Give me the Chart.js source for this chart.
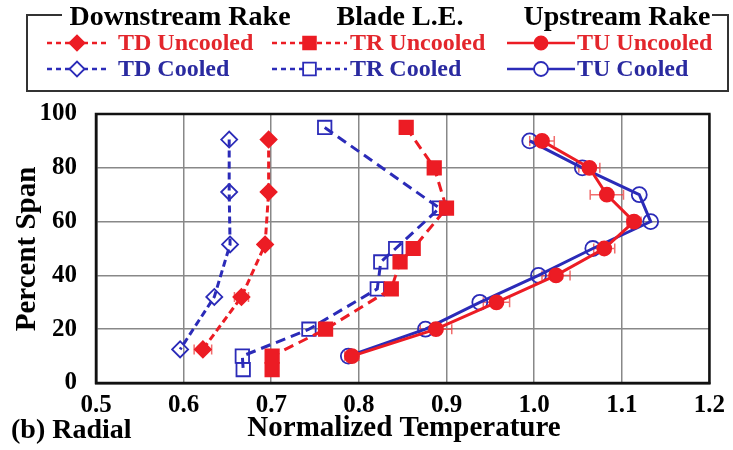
<!DOCTYPE html>
<html>
<head>
<meta charset="utf-8">
<script src="https://cdn.jsdelivr.net/npm/chart.js@4/dist/chart.umd.min.js"></script>
<style>
  html, body { margin: 0; padding: 0; background: #fff; }
  #wrap { width: 733px; height: 450px; }
</style>
</head>
<body>
<div id="wrap"><canvas id="c" width="733" height="450"></canvas></div>
<script>
// ---- data ----
const TD_SPAN = [90.5, 71, 51.5, 32, 12.5];
const TD_UNCOOLED = [0.697, 0.697, 0.693, 0.666, 0.622];
const TD_UNCOOLED_ERR = [0, 0, 0, 0.008, 0.01];
const TD_COOLED = [0.652, 0.652, 0.653, 0.635, 0.596];

const TR_UNC_SPAN = [95, 80, 65, 50, 45, 35, 20, 10, 5];
const TR_UNCOOLED = [0.854, 0.886, 0.900, 0.862, 0.847, 0.837, 0.762, 0.701, 0.701];
const TR_COOL_SPAN = [95, 65, 50, 45, 35, 20, 10, 5];
const TR_COOLED = [0.761, 0.892, 0.842, 0.825, 0.821, 0.743, 0.667, 0.668];

const TU_SPAN = [90, 80, 70, 60, 50, 40, 30, 20, 10];
const TU_UNCOOLED = [1.009, 1.063, 1.083, 1.114, 1.080, 1.025, 0.957, 0.888, 0.792];
const TU_UNCOOLED_ERR = [0.014, 0.012, 0.019, 0.008, 0.012, 0.016, 0.015, 0.018, 0.008];
const TU_COOLED = [0.995, 1.055, 1.120, 1.133, 1.067, 1.005, 0.938, 0.876, 0.788];

const X_TICKS = [0.5, 0.6, 0.7, 0.8, 0.9, 1.0, 1.1, 1.2];
const Y_TICKS = [0, 20, 40, 60, 80, 100];
const GROUPS = ['Downstream Rake', 'Blade L.E.', 'Upstream Rake'];

const RED = '#ec1c24';
const BLUE = '#2b2bb8';
const SERIF = '"Liberation Serif", "Times New Roman", serif';

const pts = (xs, ys) => xs.map((x, i) => ({ x, y: ys[i] }));

const datasets = [
  { label: 'TD Uncooled', data: pts(TD_UNCOOLED, TD_SPAN), err: TD_UNCOOLED_ERR, borderColor: RED, backgroundColor: RED,
    borderDash: [7, 4], pointStyle: 'rectRot', pointRadius: 8 },
  { label: 'TD Cooled', data: pts(TD_COOLED, TD_SPAN), borderColor: BLUE, backgroundColor: 'rgba(255,255,255,0)',
    borderDash: [7, 4], pointStyle: 'rectRot', pointRadius: 8 },
  { label: 'TR Uncooled', data: pts(TR_UNCOOLED, TR_UNC_SPAN), borderColor: RED, backgroundColor: RED,
    borderDash: [10, 6], pointStyle: 'rect', pointRadius: 9.5 },
  { label: 'TR Cooled', data: pts(TR_COOLED, TR_COOL_SPAN), borderColor: BLUE, backgroundColor: 'rgba(255,255,255,0)',
    borderDash: [10, 6], pointStyle: 'rect', pointRadius: 9.5 },
  { label: 'TU Uncooled', data: pts(TU_UNCOOLED, TU_SPAN), err: TU_UNCOOLED_ERR, borderColor: RED, backgroundColor: RED,
    borderDash: [], pointStyle: 'circle', pointRadius: 7 },
  { label: 'TU Cooled', data: pts(TU_COOLED, TU_SPAN), borderColor: BLUE, backgroundColor: 'rgba(255,255,255,0)',
    borderDash: [], pointStyle: 'circle', pointRadius: 7.5 },
].map((d) => Object.assign({ showLine: true, borderWidth: 3, pointBorderWidth: 1.8,
  pointBorderColor: d.borderColor, pointBackgroundColor: d.backgroundColor, pointHoverRadius: d.pointRadius }, d));

// frame, error bars, titles and the boxed legend
const decor = {
  id: 'decor',
  beforeDatasetsDraw(chart) {
    const { ctx, scales } = chart;
    ctx.save();
    // horizontal error bars
    ctx.strokeStyle = 'rgba(236,60,60,0.75)';
    ctx.lineWidth = 1.5;
    chart.data.datasets.forEach((ds) => {
      if (!ds.err) return;
      ds.data.forEach((p, i) => {
        const e = ds.err[i];
        if (!e) return;
        const y = scales.y.getPixelForValue(p.y);
        const x0 = scales.x.getPixelForValue(p.x - e), x1 = scales.x.getPixelForValue(p.x + e);
        ctx.beginPath();
        ctx.moveTo(x0, y); ctx.lineTo(x1, y);
        ctx.moveTo(x0, y - 5); ctx.lineTo(x0, y + 5);
        ctx.moveTo(x1, y - 5); ctx.lineTo(x1, y + 5);
        ctx.stroke();
      });
    });
    ctx.restore();
  },
  afterDraw(chart) {
    const { ctx, chartArea: a } = chart;
    ctx.save();
    ctx.strokeStyle = '#111';
    ctx.lineWidth = 2.5;
    ctx.strokeRect(a.left, a.top, a.right - a.left, a.bottom - a.top);

    // axis titles
    ctx.fillStyle = '#000';
    ctx.textBaseline = 'alphabetic';
    ctx.font = 'bold 29px ' + SERIF;
    ctx.textAlign = 'center';
    ctx.fillText('Normalized Temperature', 404, 436);
    ctx.font = 'bold 28px ' + SERIF;
    ctx.textAlign = 'left';
    ctx.fillText('(b) Radial', 11, 438);
    ctx.save();
    ctx.translate(28, 249);
    ctx.rotate(-Math.PI / 2);
    ctx.textAlign = 'center';
    ctx.textBaseline = 'middle';
    ctx.font = 'bold 29px ' + SERIF;
    ctx.fillText('Percent Span', 0, 0);
    ctx.restore();

    // legend box
    ctx.strokeStyle = '#333';
    ctx.lineWidth = 2;
    ctx.strokeRect(27, 15, 701, 76);
    ctx.fillStyle = '#fff';
    ctx.fillRect(62, 2, 650, 26);
    const groupX = [180, 400, 617];
    ctx.font = 'bold 28px ' + SERIF;
    ctx.textAlign = 'center';
    ctx.textBaseline = 'alphabetic';
    ctx.fillStyle = '#000';
    GROUPS.forEach((g, i) => ctx.fillText(g, groupX[i], 25));

    const lineX = [[47, 107], [272, 347], [507, 575]];
    const textX = [118, 350, 577];
    const rowY = [43, 69];
    ctx.font = 'bold 24px ' + SERIF;
    ctx.textAlign = 'left';
    ctx.textBaseline = 'middle';
    chart.data.datasets.forEach((ds, i) => {
      const c = Math.floor(i / 2), r = i % 2;
      const y = rowY[r], [x0, x1] = lineX[c];
      ctx.strokeStyle = ds.borderColor;
      ctx.lineWidth = 2.5;
      ctx.setLineDash(ds.borderDash.length ? [5, 4] : []);
      ctx.beginPath(); ctx.moveTo(x0, y); ctx.lineTo(x1, y); ctx.stroke();
      ctx.setLineDash([]);
      ctx.fillStyle = ds.borderColor === RED ? RED : '#fff';
      ctx.lineWidth = 1.8;
      Chart.helpers.drawPoint(ctx, { pointStyle: ds.pointStyle, radius: ds.pointRadius - 0.5, rotation: 0, borderWidth: 1.8 },
        (x0 + x1) / 2, y);
      ctx.fillStyle = ds.borderColor === RED ? '#e3262c' : '#2a2aa0';
      ctx.fillText(ds.label, textX[c], y + 1);
    });
    ctx.restore();
  }
};

new Chart(document.getElementById('c'), {
  type: 'scatter',
  data: { datasets },
  plugins: [decor],
  options: {
    responsive: false,
    animation: false,
    layout: { padding: { top: 114, right: 21, left: 0, bottom: 0 } },
    plugins: { legend: { display: false }, tooltip: { enabled: false } },
    scales: {
      x: {
        type: 'linear', min: 0.5, max: 1.2,
        afterFit: (s) => { s.height = 67; },
        afterBuildTicks: (s) => { s.ticks = X_TICKS.map((v) => ({ value: v })); },
        ticks: { color: '#000', padding: 8, font: { family: SERIF, size: 25, weight: 'bold' }, callback: (v) => v.toFixed(1) },
        grid: { color: '#888', lineWidth: 1.5, drawTicks: false },
        border: { color: '#111', width: 2.5 },
      },
      y: {
        type: 'linear', min: 0, max: 100,
        afterFit: (s) => { s.width = 96; },
        afterBuildTicks: (s) => { s.ticks = Y_TICKS.map((v) => ({ value: v })); },
        ticks: { color: '#000', padding: 19, font: { family: SERIF, size: 25, weight: 'bold' } },
        grid: { color: '#888', lineWidth: 1.5, drawTicks: false },
        border: { color: '#111', width: 2.5 },
      },
    },
  },
});
</script>
</body>
</html>
